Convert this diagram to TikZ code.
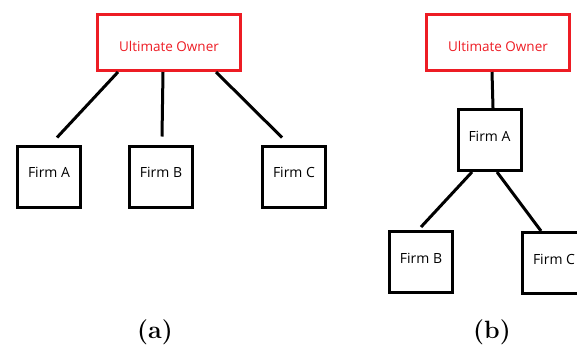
\documentclass[tikz,border=0pt]{standalone}
\usepackage{fontspec}
\newfontfamily\boxfont{Open Sans}
\usepackage{tikz}
\usepackage{xcolor}
\usetikzlibrary{positioning,calc}
\definecolor{ownred}{RGB}{237,28,36}

\begin{document}
\begin{tikzpicture}[x=1pt, y=-1pt, font=\boxfont\fontsize{14}{16}\selectfont,
    owner/.style={draw=ownred, line width=3pt, text=ownred, minimum width=143pt, minimum height=56pt,
        font=\boxfont\fontsize{13.5}{16}\selectfont, text height=17pt, text depth=0pt},
    firm/.style={draw=black, line width=3pt, minimum width=63pt, minimum height=61pt,
        text height=10pt, text depth=8pt},
    link/.style={line width=3pt, line cap=butt},
    sublabel/.style={font=\fontsize{25}{30}\selectfont\bfseries}]
            \useasboundingbox (0,0) rectangle (577,346);
            \clip (0,0) rectangle (577,346);
            % (a) one owner, three firms
            \node[owner] (uoL) at (169,42.5) {Ultimate Owner};
            \foreach \x/\name in {49/A, 161/B, 294/C}
                \node[firm] (f\name) at (\x,176.5) {Firm \name};
            \draw[link] ([xshift=-51pt]uoL.south) -- ([xshift=8pt,yshift=7pt]fA.north);
            \draw[link] ([xshift=-6pt]uoL.south) -- ([xshift=1pt,yshift=8pt]fB.north);
            \draw[link] ([xshift=47pt]uoL.south) -- ([xshift=-12pt,yshift=7pt]fC.north);
            \node[sublabel] (capA) at (155,332) {(a)};
            % (b) chain of firms
            \node[owner] (uoR) at (498,42.5) {Ultimate Owner};
            \node[firm] (gA) at (489.5,140) {Firm A};
            \node[firm] (gB) at (421,262) {Firm B};
            \node[firm] (gC) at (554,263) {Firm C};
            \draw[link] ([xshift=-6pt]uoR.south) -- ([xshift=3.5pt]gA.north);
            \draw[link] ([xshift=-17.5pt]gA.south) -- ([yshift=3pt]gB.north);
            \draw[link] ([xshift=7.5pt]gA.south) -- ([xshift=-13pt]gC.north);
            \node[sublabel] (capB) at (492,332) {(b)};
        \end{tikzpicture}
\end{document}
